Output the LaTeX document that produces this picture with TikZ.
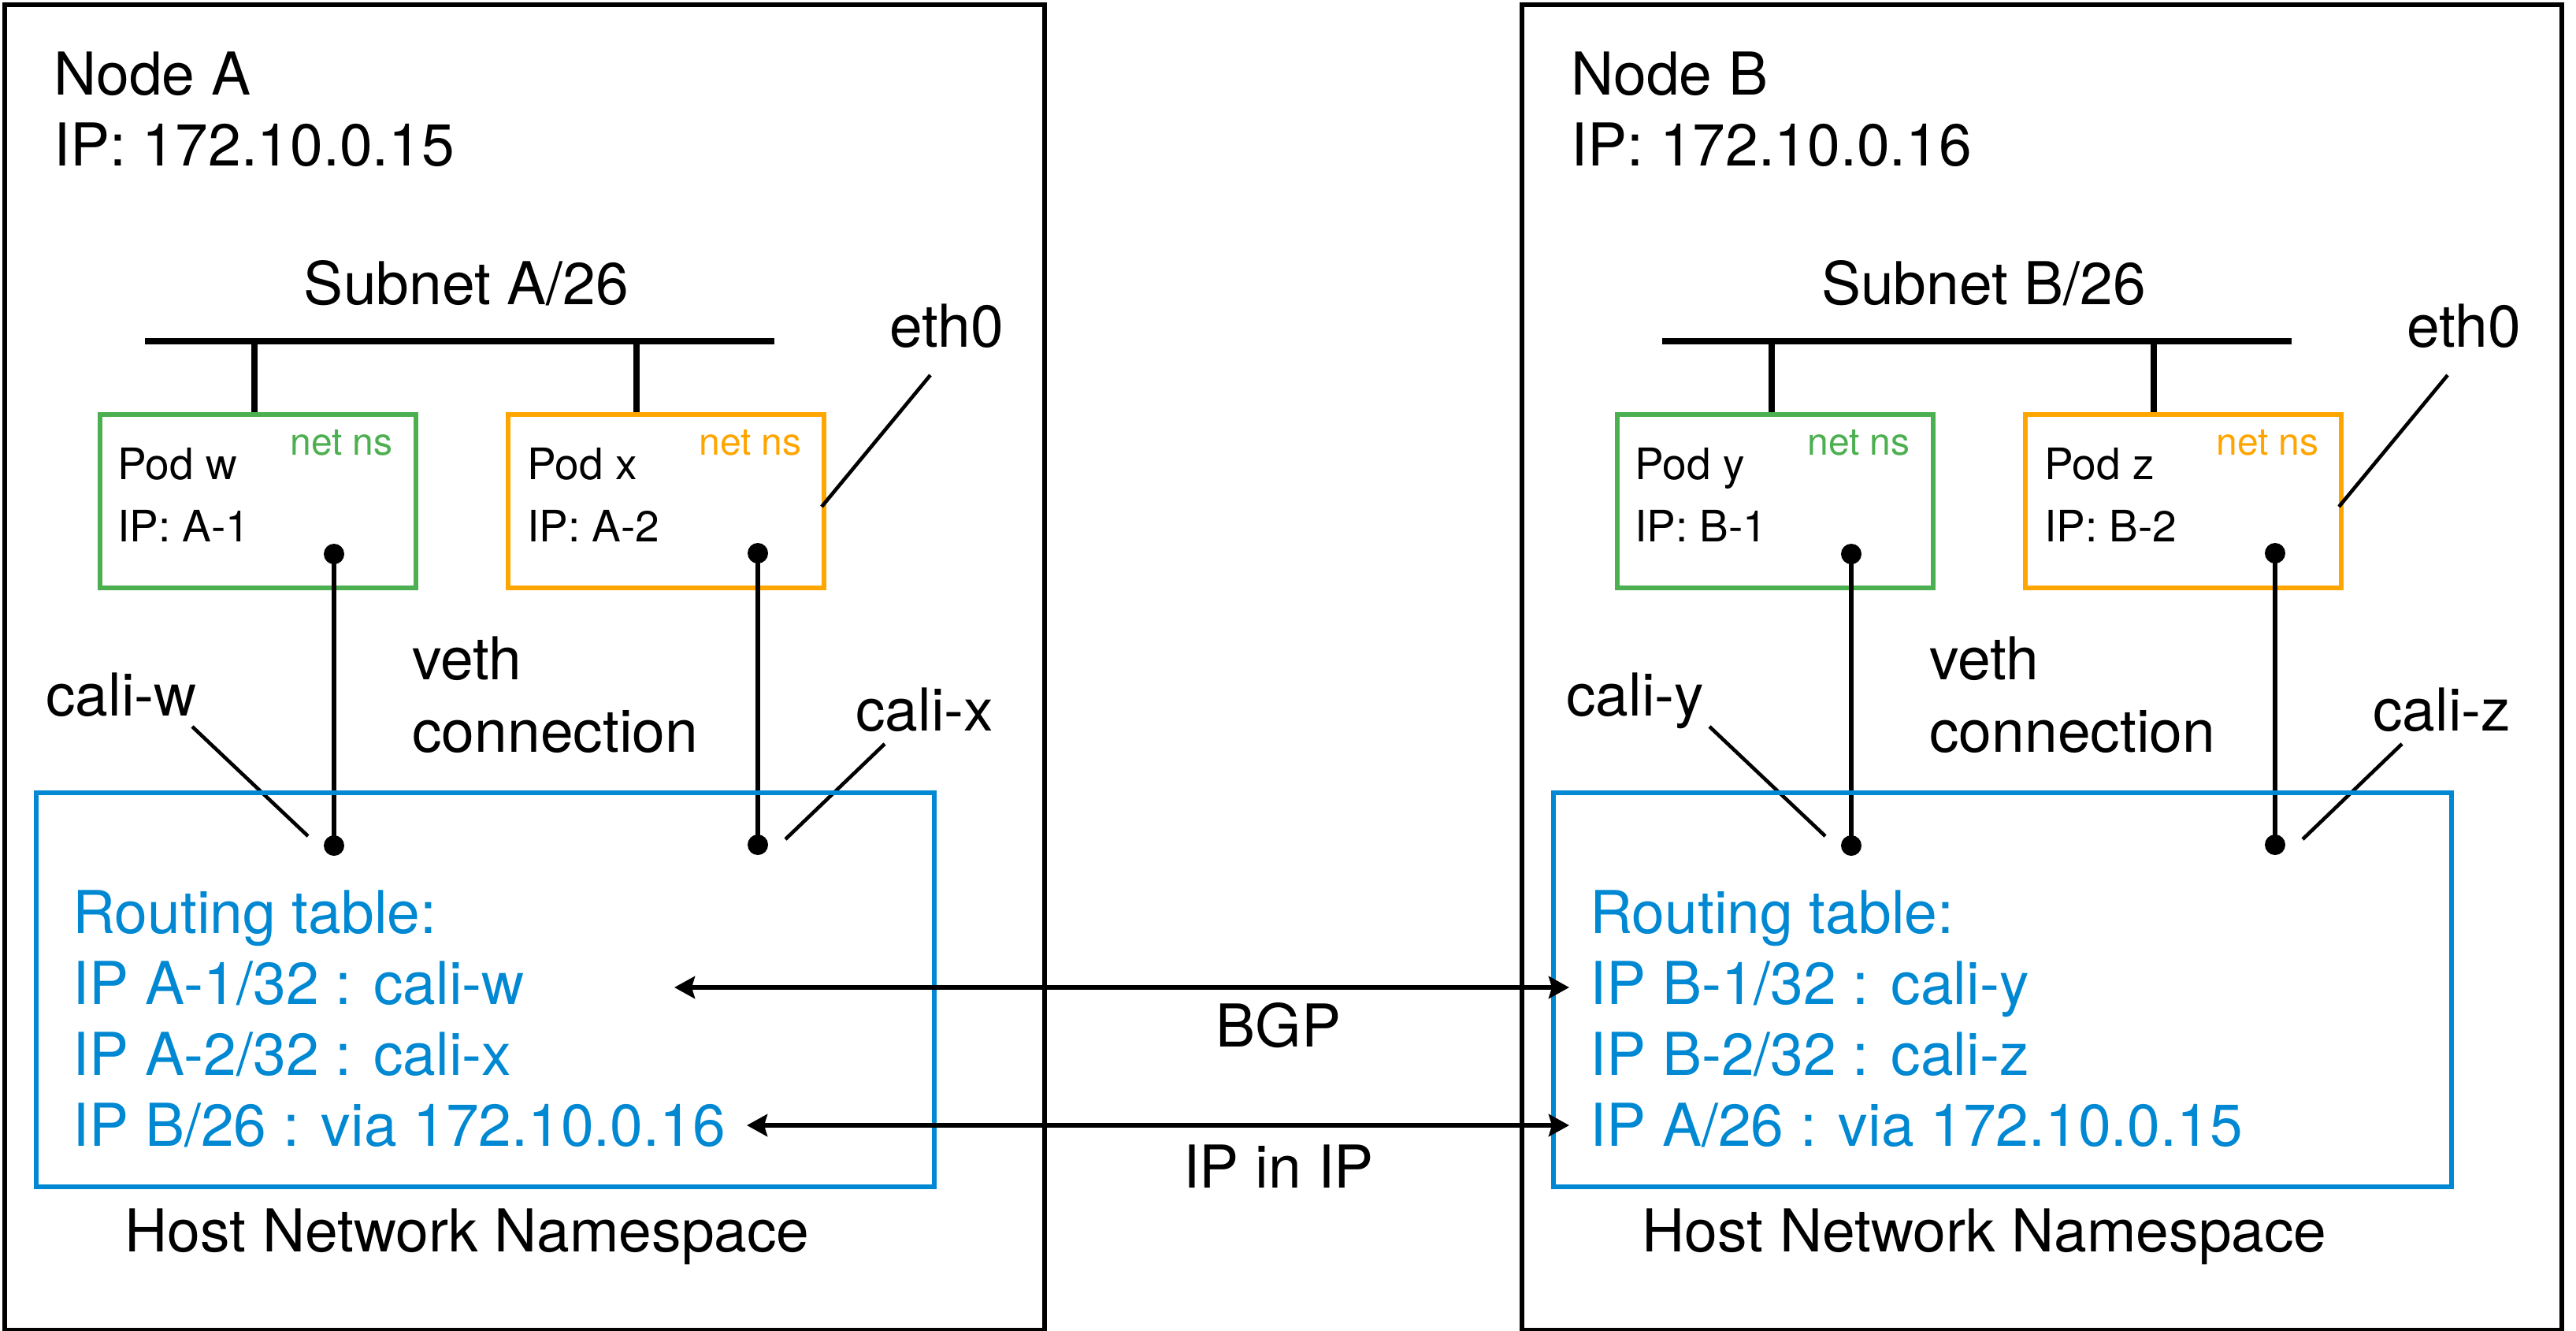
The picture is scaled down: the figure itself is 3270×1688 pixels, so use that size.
\documentclass[tikz,border=0pt]{standalone}
\usepackage{fontspec}
\setmainfont{TeX Gyre Heros}
\usetikzlibrary{arrows.meta}
\definecolor{podgreen}{RGB}{76,175,80}
\definecolor{podorange}{RGB}{255,165,0}
\definecolor{hostblue}{RGB}{0,136,210}
\begin{document}
\begin{tikzpicture}[x=0.5pt,y=-0.5pt,
  frame/.style={draw=black, line width=3pt, minimum width=660pt, minimum height=841pt, anchor=north west, inner sep=0pt},
  podbox/.style={line width=3pt, minimum width=200.5pt, minimum height=110pt, anchor=north west, inner sep=0pt},
  podg/.style={podbox, draw=podgreen},
  podo/.style={podbox, draw=podorange},
  hostbox/.style={draw=hostblue, line width=3pt, minimum width=570pt, minimum height=250pt, anchor=north west, inner sep=0pt},
  big/.style={font=\fontsize{37.5pt}{45pt}\selectfont, inner sep=0pt, anchor=base west},
  bigc/.style={big, anchor=base},
  podtxt/.style={font=\fontsize{27.5pt}{33pt}\selectfont, inner sep=0pt, anchor=base west},
  nstxt/.style={font=\fontsize{24pt}{28pt}\selectfont, inner sep=0pt, anchor=base west},
  route/.style={big, text=hostblue},
  busline/.style={line width=4pt},
  vethline/.style={line width=3pt},
  leader/.style={line width=2.3pt},
  dotnode/.style={circle, fill=black, inner sep=0pt, minimum size=13pt},
  flow/.style={line width=3pt, {Stealth[length=13pt,width=14pt,inset=2pt]}-{Stealth[length=13pt,width=14pt,inset=2pt]}}
]
\useasboundingbox (0,0) rectangle (3270,1688);

% ================= Node A =================
\node[frame] (nodeA) at (3,3) {};
\node[big] (nodeAname) at (68,120) {Node A};
\node[big] (nodeAip) at (68,210) {IP: 172.10.0.15};
\node[bigc] (subnetA) at (592,386) {Subnet A/26};
\coordinate (busAl) at (184,433);
\coordinate (busAr) at (983,433);
\draw[busline] (busAl) -- (busAr);
\node[podg] (podw) at (124,523) {};
\node[podo] (podx) at (642,523) {};
\coordinate (dropw) at (323,433);
\coordinate (dropx) at (808,433);
\draw[busline] (dropw) -- (dropw |- podw.north);
\draw[busline] (dropx) -- (dropx |- podx.north);
\node[podtxt] (podwname) at (149,608) {Pod w};
\node[podtxt] (podwip) at (149,687) {IP: A-1};
\node[nstxt, text=podgreen] (podwns) at (368,577) {net ns};
\node[podtxt] (podxname) at (669,608) {Pod x};
\node[podtxt] (podxip) at (669,687) {IP: A-2};
\node[nstxt, text=podorange] (podxns) at (887,577) {net ns};
\node[big] (eth0A) at (1129,440) {eth0};
\coordinate (eth0Aa) at (1181,476);
\coordinate (eth0Ab) at (1043,643);
\draw[leader] (eth0Aa) -- (eth0Ab);
\node[dotnode] (dwtop) at (424,703) {};
\node[dotnode] (dwbot) at (424,1073) {};
\node[dotnode] (dxtop) at (962,702) {};
\node[dotnode] (dxbot) at (962,1072) {};
\draw[vethline] (dwtop.center) -- (dwbot.center);
\draw[vethline] (dxtop.center) -- (dxbot.center);
\node[big] (vethA1) at (523,862) {veth};
\node[big] (vethA2) at (523,954) {connection};
\node[big] (caliw) at (58,908) {cali-w};
\coordinate (caliwa) at (244,922);
\coordinate (caliwb) at (391,1061);
\draw[leader] (caliwa) -- (caliwb);
\node[big] (calix) at (1086,927) {cali-x};
\coordinate (calixa) at (1123,944);
\coordinate (calixb) at (997,1065);
\draw[leader] (calixa) -- (calixb);
\node[hostbox] (hostA) at (43,1003) {};
\node[route] (rtA0) at (92,1184) {Routing table:};
\node[route] (rtA1) at (92,1274) {IP A-1/32 : cali-w};
\node[route] (rtA2) at (92,1364) {IP A-2/32 : cali-x};
\node[route] (rtA3) at (92,1454) {IP B/26 : via 172.10.0.16};
\node[bigc] (hnsA) at (593,1588) {Host Network Namespace};

% ================= Node B =================
\node[frame] (nodeB) at (1929,3) {};
\node[big] (nodeBname) at (1994,120) {Node B};
\node[big] (nodeBip) at (1994,210) {IP: 172.10.0.16};
\node[bigc] (subnetB) at (2518,386) {Subnet B/26};
\coordinate (busBl) at (2110,433);
\coordinate (busBr) at (2909,433);
\draw[busline] (busBl) -- (busBr);
\node[podg] (pody) at (2050,523) {};
\node[podo] (podz) at (2568,523) {};
\coordinate (dropy) at (2249,433);
\coordinate (dropz) at (2734,433);
\draw[busline] (dropy) -- (dropy |- pody.north);
\draw[busline] (dropz) -- (dropz |- podz.north);
\node[podtxt] (podyname) at (2075,608) {Pod y};
\node[podtxt] (podyip) at (2075,687) {IP: B-1};
\node[nstxt, text=podgreen] (podyns) at (2294,577) {net ns};
\node[podtxt] (podzname) at (2595,608) {Pod z};
\node[podtxt] (podzip) at (2595,687) {IP: B-2};
\node[nstxt, text=podorange] (podzns) at (2813,577) {net ns};
\node[big] (eth0B) at (3055,440) {eth0};
\coordinate (eth0Ba) at (3107,476);
\coordinate (eth0Bb) at (2969,643);
\draw[leader] (eth0Ba) -- (eth0Bb);
\node[dotnode] (dytop) at (2350,703) {};
\node[dotnode] (dybot) at (2350,1073) {};
\node[dotnode] (dztop) at (2888,702) {};
\node[dotnode] (dzbot) at (2888,1072) {};
\draw[vethline] (dytop.center) -- (dybot.center);
\draw[vethline] (dztop.center) -- (dzbot.center);
\node[big] (vethB1) at (2449,862) {veth};
\node[big] (vethB2) at (2449,954) {connection};
\node[big] (caliy) at (1988,908) {cali-y};
\coordinate (caliya) at (2170,922);
\coordinate (caliyb) at (2317,1061);
\draw[leader] (caliya) -- (caliyb);
\node[big] (caliz) at (3012,927) {cali-z};
\coordinate (caliza) at (3049,944);
\coordinate (calizb) at (2923,1065);
\draw[leader] (caliza) -- (calizb);
\node[hostbox] (hostB) at (1969,1003) {};
\node[route] (rtB0) at (2018,1184) {Routing table:};
\node[route] (rtB1) at (2018,1274) {IP B-1/32 : cali-y};
\node[route] (rtB2) at (2018,1364) {IP B-2/32 : cali-z};
\node[route] (rtB3) at (2018,1454) {IP A/26 : via 172.10.0.15};
\node[bigc] (hnsB) at (2519,1588) {Host Network Namespace};

% ================= Between nodes =================
\coordinate (bgpA) at (856,1253);
\coordinate (bgpB) at (1992,1253);
\draw[flow] (bgpA) -- (bgpB);
\node[bigc] (bgp) at (1623,1328) {BGP};
\coordinate (ipipA) at (948,1428);
\coordinate (ipipB) at (1992,1428);
\draw[flow] (ipipA) -- (ipipB);
\node[bigc] (ipip) at (1623,1507) {IP in IP};
\end{tikzpicture}
\end{document}
